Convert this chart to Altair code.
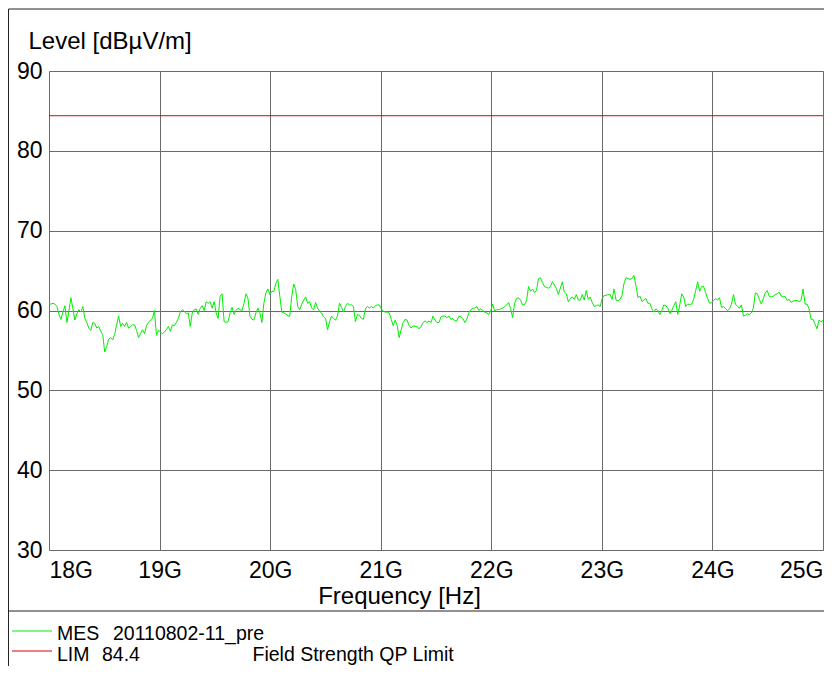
import altair as alt
import numpy as np
import pandas as pd

# ---------------- data ----------------
freq_start_ghz = 18.0
freq_stop_ghz = 25.0

level_seg1 = [
    60.9, 60.8, 60.9, 60.8, 60.5, 59.5, 58.9, 59.8, 60.6, 58.5,
    59.9, 61.6, 60.3, 58.8, 59.6, 60.1, 59.8, 60.5, 59.0, 58.5,
    57.8, 57.5, 58.5, 58.4, 57.8, 58.0, 57.4, 57.0, 54.8, 55.5,
    56.4, 56.6, 56.3, 57.0, 58.2, 59.3, 58.0, 58.4, 58.0, 58.5,
    57.8, 58.0, 58.2, 58.2, 57.5, 56.6, 57.1, 57.6, 57.1, 58.1,
    58.5, 58.8, 59.0, 60.0, 56.9, 57.5, 57.3, 57.1, 57.3, 57.6,
    58.0, 57.4, 58.2, 58.1, 58.5, 59.0, 59.8, 60.1, 59.9, 59.6,
    59.7, 58.0, 59.7, 60.1, 60.2, 59.5, 60.3, 60.6,
]
level_seg2 = [
    60.0, 61.1, 60.9, 61.1, 60.3, 61.1, 59.7, 59.0, 61.8, 62.1,
    58.6, 58.5, 58.6, 59.7, 60.4, 59.5, 60.0, 60.3, 60.1, 60.0,
    60.9, 62.1, 61.5, 59.3, 58.9, 58.8, 59.7, 60.3, 59.7, 58.5,
    60.9, 62.2, 62.7, 62.0, 62.4, 62.4, 63.4, 63.9, 61.8, 59.8,
    59.7, 59.6, 59.3, 59.3, 61.8, 63.3, 62.6, 60.5, 60.1, 60.8,
    61.3, 61.7, 60.9, 61.1, 60.3, 60.1, 61.0, 60.3, 59.9, 59.7,
    59.2, 59.0, 57.6, 58.6, 59.3, 59.0, 58.8, 59.3, 60.9, 60.4,
    59.8, 60.5, 60.9, 60.7, 60.7, 60.5, 58.6,
]
level_seg3 = [
    59.5, 59.4, 59.0, 58.9, 60.2, 60.5, 60.3, 60.5, 60.3, 60.6,
    60.7, 60.7, 60.2, 59.9, 59.8, 59.8, 59.7, 58.9, 58.1, 58.8,
    58.1, 56.6, 57.6, 58.5, 58.9, 58.8, 58.1, 57.8, 58.1, 58.0,
    58.0, 57.7, 58.0, 58.5, 58.7, 58.5, 58.7, 58.5, 59.3, 58.8,
    58.5, 58.5, 59.2, 59.3, 59.3, 59.1, 59.3, 58.9, 59.0, 58.7,
    58.7, 59.3, 59.2, 59.0, 58.5, 58.9, 59.7, 60.1, 60.3, 60.3,
    60.5, 60.0, 60.2, 60.0, 59.8, 59.7, 59.5, 60.0, 60.8, 59.9,
    60.1, 60.1, 60.2, 60.3, 60.5, 60.7, 61.0,
]
level_seg4 = [
    60.25, 59.1, 60.9, 61.5, 61.6, 61.3, 60.7, 60.75, 61.2, 63.0,
    62.4, 62.7, 62.25, 62.5, 64.0, 64.1, 63.5, 63.0, 62.9, 62.8,
    63.0, 63.6, 63.2, 62.75, 62.0, 62.8, 63.6, 62.3, 62.1, 61.1,
    61.5, 61.7, 61.4, 62.0, 61.3, 61.3, 62.0, 61.3, 62.5, 61.4,
    61.7, 61.0, 60.5, 60.6, 60.7, 60.5, 61.5, 61.9, 61.9, 62.0,
    62.0, 61.4, 62.7, 61.3, 61.2, 61.4, 61.9, 63.4, 64.1, 64.0,
    63.9, 64.0, 64.4, 63.1, 61.6, 61.8, 61.1, 61.3, 61.5, 60.9,
    60.9, 60.2, 59.8, 60.2, 60.0, 59.5, 60.0,
]
level_seg5 = [
    60.7, 60.6, 60.3, 59.6, 60.0, 60.6, 61.1, 59.5, 60.7, 62.1,
    61.7, 60.5, 60.8, 60.75, 60.8, 61.4, 62.5, 63.6, 62.4, 63.0,
    63.0, 62.25, 61.5, 60.9, 61.0, 61.25, 61.5, 61.3, 61.6, 60.4,
    60.5, 60.25, 60.0, 60.2, 60.8, 62.0, 60.8, 60.5, 60.3, 60.7,
    59.3, 59.4, 59.6, 59.5, 59.7, 60.3, 62.2, 62.1, 61.4, 60.8,
    61.5, 62.2, 62.5, 61.75, 61.7, 61.8, 62.0, 62.1, 62.3, 61.8,
    61.7, 61.75, 61.25, 61.4, 61.0, 61.2, 61.25, 61.25, 61.1, 61.3,
    62.7, 60.8, 60.8, 60.2, 58.9, 58.9, 58.3, 57.7, 58.8, 58.6,
    58.75,
]

limit_level = 84.4
x_tick_values = [18, 19, 20, 21, 22, 23, 24, 25]
y_tick_values = [30, 40, 50, 60, 70, 80, 90]
x_title = "Frequency [Hz]"
y_title = "Level [dBµV/m]"
legend_names = ["MES", "LIM"]
legend_values = ["20110802-11_pre", "84.4"]
legend_desc = ["", "Field Strength QP Limit"]

levels = level_seg1 + level_seg2 + level_seg3 + level_seg4 + level_seg5
freqs = np.linspace(freq_start_ghz, freq_stop_ghz, len(levels))  # sweep grid

df = pd.DataFrame({"freq": freqs, "level": levels})
one = pd.DataFrame({"k": [0]})

FONT = "Liberation Sans"
GRID = "#6a6a6a"
TICK_FS = 23
TITLE_FS = 24
LEG_FS = 19.5

x_enc = alt.X(
    "freq:Q",
    scale=alt.Scale(domain=[freq_start_ghz, freq_stop_ghz], nice=False, zero=False),
    axis=alt.Axis(
        values=x_tick_values,
        labelExpr="datum.value + 'G'",
        labelFlush=True,
        labelOverlap=False,
        ticks=False,
        tickSize=0,
        domain=False,
        grid=True,
        gridColor=GRID,
        gridWidth=1,
        labelFont=FONT,
        labelFontSize=TICK_FS,
        labelColor="black",
        labelPadding=9,
        title=x_title,
        titleFont=FONT,
        titleFontSize=TITLE_FS,
        titleFontWeight="normal",
        titleColor="black",
        titleX=350,
        titleY=53,
        titleAlign="center",
        titleBaseline="alphabetic",
    ),
)
y_enc = alt.Y(
    "level:Q",
    scale=alt.Scale(domain=[30, 90], nice=False, zero=False),
    axis=alt.Axis(
        values=y_tick_values,
        labelFlush=False,
        labelOverlap=False,
        ticks=False,
        tickSize=0,
        domain=False,
        grid=True,
        gridColor=GRID,
        gridWidth=1,
        labelFont=FONT,
        labelFontSize=TICK_FS,
        labelColor="black",
        labelPadding=7,
        title=y_title,
        titleFont=FONT,
        titleFontSize=TITLE_FS,
        titleFontWeight="normal",
        titleColor="black",
        titleAngle=0,
        titleX=-21,
        titleY=-22.5,
        titleAlign="left",
        titleBaseline="alphabetic",
    ),
)

line = alt.Chart(df).mark_line(color="#00ee00", strokeWidth=1).encode(x=x_enc, y=y_enc)

limit = alt.Chart(one).mark_rule(color="#e00000", strokeWidth=1).encode(
    y=alt.datum(limit_level)
)

# outer frame and legend separator (decoration)
frame_top = alt.Chart(one).mark_rule(color="#222222", strokeWidth=1).encode(
    x=alt.value(-40.5), x2=alt.value(790), y=alt.value(-62)
)
frame_left = alt.Chart(one).mark_rule(color="#222222", strokeWidth=1).encode(
    x=alt.value(-40.5), y=alt.value(-62), y2=alt.value(610)
)
separator = alt.Chart(one).mark_rule(color="#222222", strokeWidth=1).encode(
    x=alt.value(-40.5), x2=alt.value(790), y=alt.value(540)
)

# legend
leg_green = alt.Chart(one).mark_rule(color="#00ee00", strokeWidth=1).encode(
    x=alt.value(-37), x2=alt.value(3), y=alt.value(560)
)
leg_red = alt.Chart(one).mark_rule(color="#e00000", strokeWidth=1).encode(
    x=alt.value(-37), x2=alt.value(3), y=alt.value(580)
)


def txt(s, x, y):
    return alt.Chart(one).mark_text(
        align="left", baseline="alphabetic", font=FONT, fontSize=LEG_FS,
        color="black", text=s,
    ).encode(x=alt.value(x), y=alt.value(y))


legend_texts = [
    txt(legend_names[0], 8, 569),
    txt(legend_values[0], 64, 569),
    txt(legend_names[1], 8, 589.5),
    txt(legend_values[1], 53, 589.5),
    txt(legend_desc[1], 203.5, 589.5),
]

chart = alt.layer(
    line, limit, frame_top, frame_left, separator, leg_green, leg_red, *legend_texts
).properties(
    width=774,
    height=479,
    padding={"left": 41, "top": 63, "right": 1, "bottom": 116},
    autosize=alt.AutoSizeParams(type="none"),
    background="white",
).configure_view(stroke="black", strokeWidth=1).configure(font=FONT)

chart.save("out.html", embed_options={"renderer": "svg", "actions": False})
